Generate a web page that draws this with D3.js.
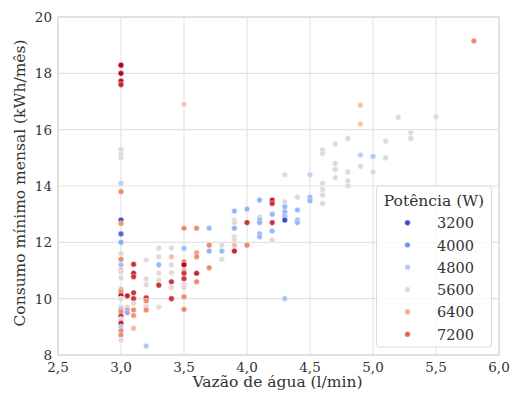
<!DOCTYPE html>
<head>
    <meta charset="utf-8" />
    <script src="https://d3js.org/d3.v7.min.js"></script>
    <style>
        body { margin: 0; background: #fff; }
        text { font-family: "DejaVu Serif", serif; fill: #333; }
    </style>
</head>
<body>
<svg width="513" height="394"></svg>
<script>
    // flow (l/min), monthly consumption (kWh/mês), power (W)
    let vazao = [
        3.0,3.0,3.0,3.0,3.0,3.0,3.0,3.0,3.0,3.0,3.0,3.0,3.0,3.0,3.0,3.0,3.0,3.0,3.0,3.0,3.0,3.0,3.0,3.0,3.0,3.0,3.0,3.0,3.0,3.0,3.0,3.0,3.0,
        3.05,3.05,3.05,3.05,
        3.1,3.1,3.1,3.1,3.1,3.1,3.1,3.1,3.1,
        3.2,3.2,3.2,3.2,3.2,3.2,3.2,3.2,
        3.3,3.3,3.3,3.3,3.3,3.3,3.3,
        3.4,3.4,3.4,3.4,3.4,3.4,3.4,
        3.5,3.5,3.5,3.5,3.5,3.5,3.5,3.5,3.5,3.5,3.5,3.5,
        3.6,3.6,3.6,3.6,3.6,
        3.7,3.7,3.7,3.7,
        3.8,3.8,3.8,
        3.9,3.9,3.9,3.9,3.9,3.9,3.9,3.9,
        4.0,4.0,4.0,
        4.1,4.1,4.1,4.1,4.1,4.1,
        4.2,4.2,4.2,4.2,4.2,4.2,
        4.3,4.3,4.3,4.3,4.3,4.3,4.3,
        4.4,4.4,4.4,4.4,
        4.5,4.5,4.5,
        4.6,4.6,4.6,4.6,4.6,4.6,
        4.7,4.7,4.7,4.7,
        4.8,4.8,4.8,4.8,
        4.9,4.9,4.9,4.9,
        5.0,5.0,
        5.1,5.1,
        5.2,
        5.3,5.3,
        5.5,
        5.8
    ];
    let consumo = [
        18.29,18.0,17.73,17.6,15.3,15.12,15.0,14.1,13.8,12.79,12.67,12.3,12.0,11.6,11.4,11.2,11.0,10.95,10.74,10.33,10.24,10.1,10.0,9.7,9.62,9.54,9.38,9.27,9.13,9.0,8.86,8.71,8.53,
        10.1,9.7,9.6,9.5,
        11.22,10.9,10.78,10.21,10.0,9.83,9.6,9.4,8.95,
        11.37,10.7,10.5,10.03,9.92,9.73,9.6,8.32,
        11.8,11.49,11.2,10.9,10.66,10.48,9.7,
        11.8,11.49,11.2,10.92,10.6,10.4,10.0,
        16.9,12.5,11.79,11.31,11.2,11.0,10.9,10.71,10.52,10.4,10.07,9.62,
        12.5,11.63,11.49,10.9,10.6,
        12.5,11.9,11.69,11.1,
        11.9,11.69,11.4,
        13.11,12.79,12.7,12.5,12.2,12.1,11.9,11.69,
        13.18,12.7,11.9,
        13.5,12.9,12.79,12.7,12.3,12.2,
        13.5,13.38,13.0,12.7,12.4,12.08,
        14.4,13.44,13.26,13.08,12.93,12.79,10.0,
        13.6,13.15,12.79,12.7,
        14.4,13.6,13.48,
        15.28,15.16,14.1,13.88,13.68,13.38,
        15.49,14.8,14.59,14.3,
        15.69,14.5,14.19,14.0,
        16.87,16.2,15.1,14.7,
        15.05,14.5,
        15.6,15.0,
        16.44,
        15.89,15.69,
        16.46,
        19.15
    ];
    let potencia = [
        7800,7800,7700,7600,5600,5600,5600,4900,6800,3200,6700,3500,4300,5600,6800,4600,6700,5600,5600,6400,6800,7800,5600,5600,4600,6800,7500,5600,7600,4800,6800,6800,5600,
        7600,5600,6700,4300,
        7500,7600,7500,7500,7500,5600,6800,6700,6200,
        5600,5600,5600,7500,6800,5600,6800,4800,
        5600,5600,4500,5600,5600,7500,5600,
        5600,6200,5600,5600,7500,5600,7500,
        6000,6800,4600,6800,7800,6400,7500,7500,5600,5600,6800,6800,
        6800,6600,6800,7600,6800,
        4500,6800,4400,6800,
        5600,4500,5600,
        4400,5600,5600,4400,5600,5600,6200,7600,
        4400,7500,6800,
        4400,5600,4500,4400,4500,4500,
        7600,7500,4500,7500,4500,5600,
        5600,5600,4500,4500,4600,3200,4700,
        5600,4500,4500,4500,
        5000,4500,4500,
        5600,5600,5600,5600,5600,5600,
        5600,5600,5600,5600,
        5600,5600,5600,5600,
        6100,6100,4900,5600,
        4800,5600,
        5600,5600,
        5600,
        5600,5600,
        5600,
        6800
    ];
    let xTicks = [2.5, 3.0, 3.5, 4.0, 4.5, 5.0, 5.5, 6.0];
    let yTicks = [8, 10, 12, 14, 16, 18, 20];
    let legendValues = [3200, 4000, 4800, 5600, 6400, 7200];

    // matplotlib coolwarm, sampled every 1/8
    let coolwarm = ["#3b4cc0", "#6282ea", "#8db0fe", "#b8d0f9", "#dcdddd",
                    "#f5c4ad", "#f49a7b", "#de604d", "#b40426"];

    let svg = d3.select("svg");
    let mLeft = 58, mRight = 499, mTop = 17, mBottom = 355;

    let x = d3.scaleLinear().domain([2.5, 6.0]).range([mLeft, mRight]);
    let y = d3.scaleLinear().domain([8, 20]).range([mBottom, mTop]);
    let color = d3.scaleSequential(d3.piecewise(d3.interpolateRgb, coolwarm)).domain([3200, 7800]);

    let fmt = d => d3.format(".1f")(d).replace(".", ",");

    // grid
    svg.append("g").selectAll("line").data(xTicks).join("line")
        .attr("x1", d => x(d)).attr("x2", d => x(d))
        .attr("y1", mTop).attr("y2", mBottom)
        .attr("stroke", "#e2e2e2").attr("stroke-width", 1.1);
    svg.append("g").selectAll("line").data(yTicks).join("line")
        .attr("x1", mLeft).attr("x2", mRight)
        .attr("y1", d => y(d)).attr("y2", d => y(d))
        .attr("stroke", "#e2e2e2").attr("stroke-width", 1.1);
    svg.append("rect")
        .attr("x", mLeft).attr("y", mTop)
        .attr("width", mRight - mLeft).attr("height", mBottom - mTop)
        .attr("fill", "none").attr("stroke", "#d6d6d6").attr("stroke-width", 1.1);

    // tick labels
    svg.append("g").selectAll("text").data(xTicks).join("text")
        .attr("x", d => x(d)).attr("y", mBottom + 16.5)
        .attr("text-anchor", "middle").attr("font-size", 13.5)
        .text(fmt);
    svg.append("g").selectAll("text").data(yTicks).join("text")
        .attr("x", mLeft - 6).attr("y", d => y(d) + 5)
        .attr("text-anchor", "end").attr("font-size", 13.5)
        .text(d => d);

    // axis titles
    svg.append("text")
        .attr("x", (mLeft + mRight) / 2 - 1).attr("y", 387)
        .attr("text-anchor", "middle").attr("font-size", 15.5)
        .text("Vazão de água (l/min)");
    svg.append("text")
        .attr("transform", "translate(25," + ((mTop + mBottom) / 2 - 3) + ") rotate(-90)")
        .attr("text-anchor", "middle").attr("font-size", 15.5)
        .text("Consumo mínimo mensal (kWh/mês)");

    // points
    svg.append("g").selectAll("circle").data(d3.range(vazao.length)).join("circle")
        .attr("cx", i => x(vazao[i]))
        .attr("cy", i => y(consumo[i]))
        .attr("r", 2.8)
        .attr("fill", i => color(potencia[i]))
        .attr("stroke", "#fff").attr("stroke-width", 0.4);

    // legend
    let lg = svg.append("g");
    lg.append("rect")
        .attr("x", 376.5).attr("y", 186).attr("width", 115).attr("height", 161)
        .attr("rx", 3).attr("fill", "#fff").attr("fill-opacity", 0.8)
        .attr("stroke", "#d9d9d9");
    lg.append("text")
        .attr("x", 434).attr("y", 206)
        .attr("text-anchor", "middle").attr("font-size", 15.5)
        .text("Potência (W)");
    let rows = lg.selectAll("g.row").data(legendValues).join("g")
        .attr("transform", (d, i) => "translate(0," + (222.7 + i * 22.3) + ")");
    rows.append("circle").attr("cx", 407.5).attr("cy", 0).attr("r", 2.8)
        .attr("fill", d => color(d)).attr("stroke", "#fff").attr("stroke-width", 0.4);
    rows.append("text").attr("x", 437).attr("y", 5.5)
        .attr("font-size", 14.5).text(d => d);
</script>
</body>
